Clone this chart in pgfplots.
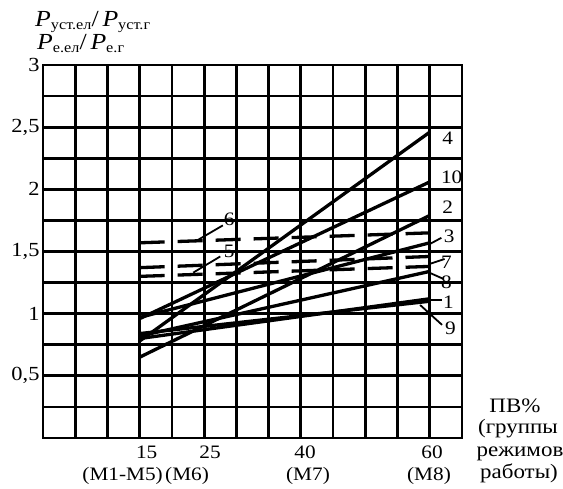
\documentclass[border=0pt]{standalone}
\usepackage{fontspec}
\setmainfont{Liberation Serif}[FakeStretch=1.12]
\usepackage{pgfplots}
\pgfplotsset{compat=1.18}
\newcommand\fs[1]{\fontsize{#1}{#1}\selectfont}
\begin{document}
\begin{tikzpicture}[x=1pt,y=1pt]
\path[use as bounding box] (-43,-50) rectangle (520,438);
\begin{axis}[at={(0,0)}, anchor=south west, scale only axis,
  width=419pt, height=373pt,
  xmin=0, xmax=65, ymin=0, ymax=3,
  xtick={0,5,...,65}, xticklabels={},
  ytick={0,0.25,0.5,0.75,1,1.25,1.5,1.75,2,2.25,2.5,2.75,3},
  yticklabels={,,{0,5},,1,,{1,5},,2,,{2,5},,3},
  major tick length=0pt,
  grid=major, major grid style={black, line width=2.8pt},
  axis line style={line width=2.8pt},
  tick label style={font=\fs{20}},
  clip=false]
% solid lines
\addplot[black, line width=3.3pt] coordinates {(15,0.78) (60,2.46)}; % 4
\addplot[black, line width=3.3pt] coordinates {(15,0.96) (60,2.06)}; % 10
\addplot[black, line width=3.3pt] coordinates {(15,0.65) (60,1.79)}; % 2
\addplot[black, line width=3.3pt] coordinates {(15,0.97) (60,1.57)}; % 3
\addplot[black, line width=3.3pt] coordinates {(15,0.82) (60,1.34)}; % 8
\addplot[black, line width=3.3pt] coordinates {(15,0.80) (60,1.12)}; % 1
\addplot[black, line width=3.3pt] coordinates {(15,0.84) (60,1.10)}; % 9
% dashed lines
\addplot[black, line width=3.3pt, dash pattern=on 25pt off 13pt] coordinates {(15,1.57) (60,1.65)}; % 6
\addplot[black, line width=3.3pt, dash pattern=on 25pt off 13pt] coordinates {(15,1.37) (60,1.46)}; % 5
\addplot[black, line width=3.3pt, dash pattern=on 25pt off 13pt] coordinates {(15,1.30) (60,1.38)}; % 7
% leaders
\draw[line width=1.8pt] (axis cs:60,1.56) -- (axis cs:61.8,1.61);
\draw[line width=1.8pt] (axis cs:60,1.40) -- (axis cs:62.3,1.44);
\draw[line width=1.8pt] (axis cs:59.5,1.34) -- (axis cs:62.1,1.28);
\draw[line width=1.8pt] (axis cs:60.2,1.11) -- (axis cs:61.9,1.11);
\draw[line width=1.8pt] (axis cs:58.5,1.07) -- (axis cs:61.9,0.91);
\draw[line width=1.8pt] (axis cs:23.6,1.58) -- (axis cs:27.9,1.71);
\draw[line width=1.8pt] (axis cs:23.3,1.33) -- (axis cs:27.5,1.46);
% labels
\node[font=\fs{19}] at (axis cs:62.8,2.41) {4};
\node[font=\fs{19}] at (axis cs:63.4,2.10) {10};
\node[font=\fs{19}] at (axis cs:62.8,1.86) {2};
\node[font=\fs{19}] at (axis cs:63.0,1.625) {3};
\node[font=\fs{19}] at (axis cs:62.6,1.415) {7};
\node[font=\fs{19}] at (axis cs:62.6,1.255) {8};
\node[font=\fs{19}] at (axis cs:62.9,1.09) {1};
\node[font=\fs{19}] at (axis cs:63.2,0.885) {9};
\node[font=\fs{19}] at (axis cs:28.9,1.76) {6};
\node[font=\fs{19}] at (axis cs:28.9,1.50) {5};
\end{axis}
% y title
\node[anchor=base west, inner sep=0pt] at (-8,411) {{\fs{23}\itshape P}\raisebox{-2.5pt}{\fs{14.5}уст.ел}{\fs{23}/\,\itshape P}\raisebox{-2.5pt}{\fs{14.5}уст.г}};
\node[anchor=base west, inner sep=0pt] at (-6,388) {{\fs{23}\itshape P}\raisebox{-2.5pt}{\fs{14.5}е.ел}{\fs{23}/\,\itshape P}\raisebox{-2.5pt}{\fs{14.5}е.г}};
% x tick labels
\node[anchor=base, font=\fs{19}, inner sep=0pt] at (103.7,-20) {15};
\node[anchor=base, font=\fs{19}, inner sep=0pt] at (167,-20) {25};
\node[anchor=base, font=\fs{19}, inner sep=0pt] at (262,-20) {40};
\node[anchor=base, font=\fs{19}, inner sep=0pt] at (389,-20) {60};
\node[anchor=base east, font=\fs{19}, inner sep=0pt] at (120,-42) {(M1-M5)};
\node[anchor=base west, font=\fs{19}, inner sep=0pt] at (122,-42) {(M6)};
\node[anchor=base, font=\fs{19}, inner sep=0pt] at (265,-42) {(M7)};
\node[anchor=base, font=\fs{19}, inner sep=0pt] at (386,-42) {(M8)};
% x title
\node[anchor=base, font=\fs{20.5}, inner sep=0pt] at (472,26) {ПВ\%};
\node[anchor=base, font=\fs{20.5}, inner sep=0pt] at (475,5) {(группы};
\node[anchor=base, font=\fs{20.5}, inner sep=0pt] at (477,-18) {режимов};
\node[anchor=base, font=\fs{20.5}, inner sep=0pt] at (476,-40) {работы)};
\end{tikzpicture}
\end{document}
